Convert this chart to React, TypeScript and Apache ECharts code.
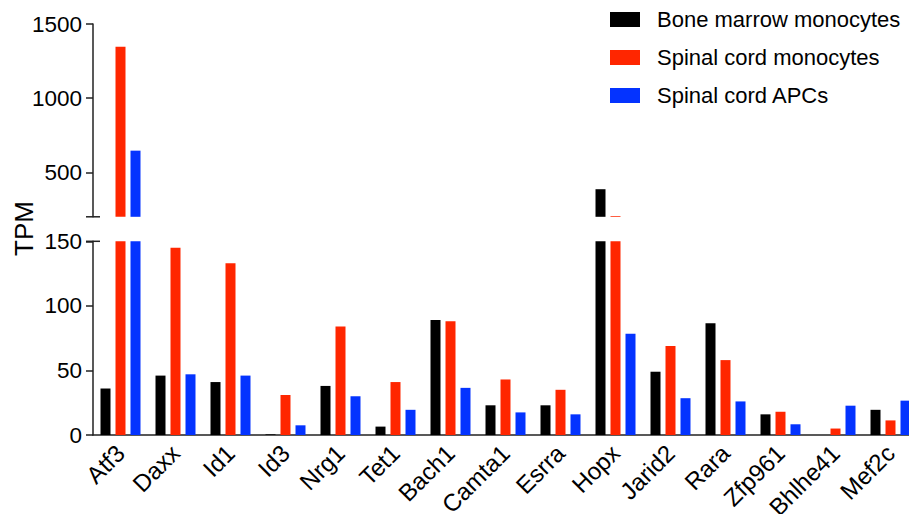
import React, { useEffect, useRef } from "react";
import * as echarts from "echarts";

const categories = ["Atf3", "Daxx", "Id1", "Id3", "Nrg1", "Tet1", "Bach1", "Camta1", "Esrra", "Hopx", "Jarid2", "Rara", "Zfp961", "Bhlhe41", "Mef2c"];
const boneMarrowMonocytes = [36, 46, 41, 0.5, 38, 6.5, 89, 23, 23, 386, 49, 86.5, 16, 0, 19.5];
const spinalCordMonocytes = [1347, 145, 133, 31, 84, 41, 88, 43, 35, 205, 69, 58, 18, 5, 11.3];
const spinalCordAPCs = [646, 47, 46, 7.5, 30, 19.5, 36.5, 17.5, 16, 78.5, 28.5, 26, 8.3, 22.7, 26.6];
const seriesNames = ["Bone marrow monocytes", "Spinal cord monocytes", "Spinal cord APCs"];
const seriesColors = ["#000000", "#FF2600", "#0433FF"];
const upperTicks = [500, 1000, 1500];
const lowerTicks = [0, 50, 100, 150];
const UPPER_MIN = 200;
const UPPER_MAX = 1500;
const LOWER_MAX = 150;

const FONT = "'Liberation Sans', Arial, Helvetica, sans-serif";

export default function App() {
  const ref = useRef<HTMLDivElement>(null);
  useEffect(() => {
    if (!ref.current) return;
    const chart = echarts.init(ref.current, undefined, { renderer: "svg" });
    const L = 93;
    const W = 825;
    const upTop = 24;
    const upH = 192.8;
    const loTop = 241.3;
    const loH = 193.7;
    const all = [boneMarrowMonocytes, spinalCordMonocytes, spinalCordAPCs];
    const series: any[] = [];
    all.forEach((arr, i) => {
      series.push({
        type: "bar",
        name: seriesNames[i],
        xAxisIndex: 0,
        yAxisIndex: 0,
        clip: true,
        barWidth: 10,
        barGap: "50%",
        itemStyle: { color: seriesColors[i] },
        data: arr.map((v) => (v > UPPER_MIN ? v : "-")),
      });
      series.push({
        type: "bar",
        name: seriesNames[i],
        xAxisIndex: 1,
        yAxisIndex: 1,
        clip: true,
        barWidth: 10,
        barGap: "50%",
        itemStyle: { color: seriesColors[i] },
        data: arr.map((v) => Math.min(v, LOWER_MAX)),
      });
    });
    const axisLine = { show: true, lineStyle: { color: "#222", width: 1.5 } };
    const tickStyle = { show: true, length: 7, lineStyle: { color: "#222", width: 1.5 } };
    const labelStyle = {
      color: "#000",
      fontSize: 22.5,
      fontFamily: FONT,
      margin: 11,
      formatter: (v: number) => String(v),
    };
    chart.setOption({
      animation: false,
      textStyle: { fontFamily: FONT },
      legend: {
        orient: "vertical",
        left: 610,
        top: 8.5,
        padding: 0,
        itemWidth: 30,
        itemHeight: 15,
        itemGap: 16,
        icon: "rect",
        data: seriesNames,
        textStyle: { fontSize: 22, color: "#000", fontFamily: FONT, padding: [0, 0, 0, 12] },
      },
      grid: [
        { left: L, width: W, top: upTop, height: upH, outerBoundsMode: "none", containLabel: false },
        { left: L, width: W, top: loTop, height: loH, outerBoundsMode: "none", containLabel: false },
      ],
      xAxis: [
        { type: "category", gridIndex: 0, data: categories, show: false },
        {
          type: "category",
          gridIndex: 1,
          data: categories,
          axisLine: axisLine,
          axisTick: { show: false },
          axisLabel: { color: "#000", fontSize: 24, fontFamily: FONT, rotate: 45, margin: 14, interval: 0 },
        },
      ],
      yAxis: [
        {
          type: "value",
          gridIndex: 0,
          min: UPPER_MIN,
          max: UPPER_MAX,
          splitLine: { show: false },
          axisLine: axisLine,
          axisTick: { ...tickStyle, customValues: upperTicks },
          axisLabel: { ...labelStyle, customValues: upperTicks },
        },
        {
          type: "value",
          gridIndex: 1,
          min: 0,
          max: LOWER_MAX,
          interval: 50,
          splitLine: { show: false },
          axisLine: axisLine,
          axisTick: { ...tickStyle, customValues: lowerTicks },
          axisLabel: { ...labelStyle, customValues: lowerTicks },
        },
      ],
      graphic: [
        {
          type: "line",
          shape: { x1: L - 7, y1: upTop + upH, x2: L + 7, y2: upTop + upH },
          style: { stroke: "#222", lineWidth: 1.5 },
        },
        {
          type: "line",
          shape: { x1: L - 7, y1: loTop, x2: L + 7, y2: loTop },
          style: { stroke: "#222", lineWidth: 1.5 },
        },
        {
          type: "text",
          x: 24,
          y: 228.5,
          rotation: Math.PI / 2,
          style: { text: "TPM", fontSize: 26, fontFamily: FONT, fill: "#000", textAlign: "center", textVerticalAlign: "middle" },
        },
      ],
      series,
    });
    return () => chart.dispose();
  }, []);
  return <div ref={ref} style={{ width: 909, height: 514, position: "absolute", left: 0, top: 0 }} />;
}
